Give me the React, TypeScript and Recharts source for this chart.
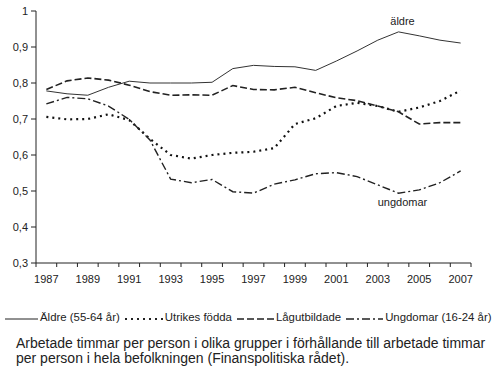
import { LineChart, Line, XAxis, YAxis, LabelList } from "recharts";

const years = [
  1987, 1988, 1989, 1990, 1991, 1992, 1993, 1994, 1995, 1996, 1997,
  1998, 1999, 2000, 2001, 2002, 2003, 2004, 2005, 2006, 2007,
];
const aldre = [
  0.778, 0.77, 0.766, 0.788, 0.805, 0.8, 0.8, 0.8, 0.802, 0.84, 0.849,
  0.846, 0.845, 0.835, 0.861, 0.889, 0.919, 0.942, 0.931, 0.919, 0.911,
];
const utrikes = [
  0.706, 0.699, 0.7, 0.713, 0.697, 0.645, 0.6, 0.59, 0.6, 0.606, 0.609,
  0.619, 0.686, 0.702, 0.736, 0.745, 0.736, 0.72, 0.732, 0.75, 0.779,
];
const lagutbildade = [
  0.782, 0.806, 0.814, 0.808, 0.794, 0.776, 0.766, 0.767, 0.766, 0.793, 0.782,
  0.781, 0.788, 0.773, 0.759, 0.751, 0.736, 0.72, 0.686, 0.69, 0.69,
];
const ungdomar = [
  0.742, 0.76, 0.756, 0.736, 0.699, 0.642, 0.533, 0.523, 0.532, 0.498, 0.494,
  0.519, 0.531, 0.548, 0.551, 0.54, 0.517, 0.494, 0.503, 0.523, 0.556,
];
const yTicks = [0.3, 0.4, 0.5, 0.6, 0.7, 0.8, 0.9, 1];
const labelYears = [1987, 1989, 1991, 1993, 1995, 1997, 1999, 2001, 2003, 2005, 2007];
const annotationYear = 2004;

const data = years.map((year, i) => ({
  year,
  aldre: aldre[i],
  utrikes: utrikes[i],
  lagutbildade: lagutbildade[i],
  ungdomar: ungdomar[i],
}));

// boundaries between years get tick marks, odd years get labels
const boundaries = [...years.map((y) => y - 0.5), years[years.length - 1] + 0.5];
const xTicks = [...boundaries, ...labelYears];

const font = "'Liberation Sans', Arial, sans-serif";
const ink = "#222";

const XTick = (props: any) => {
  const { x, y, payload } = props;
  if (Number.isInteger(payload.value)) {
    return (
      <text x={x} y={y + 20} textAnchor="middle" fontSize={11} fill={ink} fontFamily={font}>
        {payload.value}
      </text>
    );
  }
  return <line x1={x} x2={x} y1={y} y2={y + 4} stroke={ink} strokeWidth={1} />;
};

const makeAnnotation = (text: string, dy: number) => (props: any) => {
  const { x, y, index } = props;
  if (years[index] !== annotationYear) return null;
  return (
    <text x={x + 4} y={y + dy} textAnchor="middle" fontSize={11} fill={ink} fontFamily={font}>
      {text}
    </text>
  );
};

const legendItems = [
  { name: "Äldre (55-64 år)", dash: "", width: 1, w: 33 },
  { name: "Utrikes födda", dash: "2 4", width: 2.2, w: 38 },
  { name: "Lågutbildade", dash: "7 3", width: 1.6, w: 37 },
  { name: "Ungdomar (16-24 år)", dash: "8 3 2 3", width: 1.4, w: 37 },
];

export default function App() {
  return (
    <div style={{ position: "absolute", left: 0, top: 0, width: 498, height: 379, background: "#fff", fontFamily: font }}>
      <LineChart width={498} height={295} data={data} margin={{ top: 11, right: 27, left: 0, bottom: 0 }}>
        <XAxis
          dataKey="year"
          type="number"
          domain={[boundaries[0], boundaries[boundaries.length - 1]]}
          ticks={xTicks}
          interval={0}
          tickLine={false}
          tickSize={0}
          tickMargin={0}
          tick={<XTick />}
          stroke={ink}
          height={32}
          allowDataOverflow
        />
        <YAxis
          domain={[0.3, 1]}
          ticks={yTicks}
          interval={0}
          width={36}
          tickSize={5}
          tickMargin={3}
          stroke={ink}
          tick={{ fontSize: 11, fill: ink, fontFamily: font }}
          tickFormatter={(v: number) => (v === 1 ? "1" : v.toFixed(1).replace(".", ","))}
        />
        <Line dataKey="aldre" stroke="#333" strokeWidth={1} dot={false} isAnimationActive={false} type="linear">
          <LabelList dataKey="aldre" content={makeAnnotation("äldre", -7)} />
        </Line>
        <Line dataKey="utrikes" stroke="#111" strokeWidth={2.2} strokeDasharray="2 4" dot={false} isAnimationActive={false} type="linear" />
        <Line dataKey="lagutbildade" stroke="#222" strokeWidth={1.6} strokeDasharray="7 3" dot={false} isAnimationActive={false} type="linear" />
        <Line dataKey="ungdomar" stroke="#222" strokeWidth={1.4} strokeDasharray="8 3 2 3" dot={false} isAnimationActive={false} type="linear">
          <LabelList dataKey="ungdomar" content={makeAnnotation("ungdomar", 13)} />
        </Line>
      </LineChart>
      <div style={{ position: "absolute", left: 5, top: 311, display: "flex", alignItems: "center", fontSize: 11.4, color: ink, whiteSpace: "nowrap" }}>
        {legendItems.map((it, i) => (
          <div key={it.name} style={{ display: "flex", alignItems: "center", marginRight: i < legendItems.length - 1 ? 5 : 0 }}>
            <svg width={it.w} height={10} style={{ marginRight: 2 }}>
              <line x1={0} x2={it.w} y1={7} y2={7} stroke={ink} strokeWidth={it.width} strokeDasharray={it.dash || undefined} />
            </svg>
            <span>{it.name}</span>
          </div>
        ))}
      </div>
      <div style={{ position: "absolute", left: 16, top: 336, fontSize: 14, lineHeight: "15px", color: ink, whiteSpace: "nowrap" }}>
        Arbetade timmar per person i olika grupper i förhållande till arbetade timmar
        <br />
        per person i hela befolkningen (Finanspolitiska rådet).
      </div>
    </div>
  );
}
